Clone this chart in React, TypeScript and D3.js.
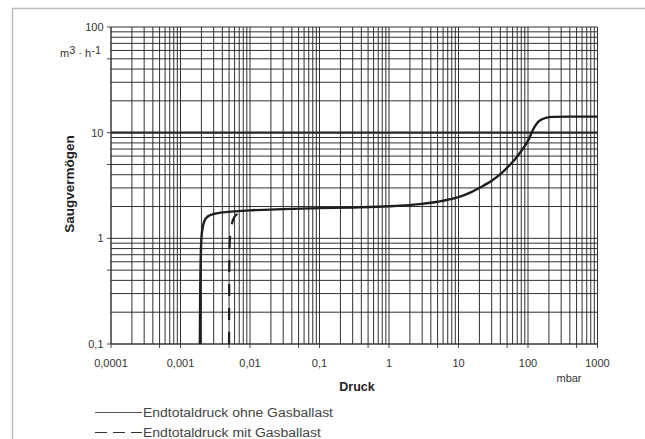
import React from "react";
import * as d3 from "d3";

const xTickValues = [0.0001, 0.001, 0.01, 0.1, 1, 10, 100, 1000];
const xTickLabels = ["0,0001", "0,001", "0,01", "0,1", "1", "10", "100", "1000"];
const yTickValues = [0.1, 1, 10, 100];
const yTickLabels = ["0,1", "1", "10", "100"];

// Endtotaldruck ohne Gasballast
const solidP = [0.0019, 0.00192, 0.00195, 0.002, 0.00208, 0.0022, 0.0025, 0.003, 0.004, 0.006, 0.01, 0.03, 0.1, 0.3, 1, 3, 5, 10, 15, 20, 30, 40, 50, 65, 80, 90, 100, 110, 120, 135, 150, 180, 230, 400, 1000];
const solidS = [0.1, 0.3, 0.6, 1.0, 1.25, 1.45, 1.62, 1.7, 1.76, 1.8, 1.84, 1.89, 1.93, 1.96, 2.01, 2.12, 2.22, 2.45, 2.72, 3.0, 3.5, 4.05, 4.65, 5.6, 6.7, 7.5, 8.4, 9.6, 10.9, 12.3, 13.1, 13.8, 14.1, 14.2, 14.2];

// Endtotaldruck mit Gasballast
const dashP = [0.005, 0.00502, 0.00508, 0.0052, 0.0055, 0.006, 0.007, 0.008, 0.0095];
const dashS = [0.1, 0.4, 0.8, 1.1, 1.38, 1.6, 1.74, 1.79, 1.83];

const legendLabels = ["Endtotaldruck ohne Gasballast", "Endtotaldruck mit Gasballast"];

const W = 645;
const H = 439;
const FONT = "'Liberation Sans', Arial, Helvetica, sans-serif";

export default function App() {
  const x = d3.scaleLog().domain([1e-4, 1e3]).range([111, 597.5]);
  const y = d3.scaleLog().domain([0.1, 100]).range([344, 27]);

  const gridX: number[] = [];
  for (let e = -4; e < 3; e++) for (let k = 1; k <= 9; k++) gridX.push(k * Math.pow(10, e));
  gridX.push(1000);
  const gridY: number[] = [];
  for (let e = -1; e < 2; e++) for (let k = 1; k <= 9; k++) gridY.push(k * Math.pow(10, e));
  gridY.push(100);

  const tickX: number[] = [];
  for (let e = -4; e < 3; e++) { tickX.push(Math.pow(10, e)); tickX.push(5 * Math.pow(10, e)); }
  tickX.push(1000);
  const tickY: number[] = [];
  for (let e = -1; e < 2; e++) { tickY.push(Math.pow(10, e)); tickY.push(5 * Math.pow(10, e)); }
  tickY.push(100);

  const line = d3
    .line<[number, number]>()
    .x((d) => x(d[0]))
    .y((d) => y(d[1]))
    .curve(d3.curveMonotoneX);

  const solidPath = line(solidP.map((p, i) => [p, solidS[i]] as [number, number])) || "";
  const dashPath = line(dashP.map((p, i) => [p, dashS[i]] as [number, number])) || "";

  const x0 = x(1e-4);
  const x1 = x(1e3);
  const y0 = y(0.1);
  const y1 = y(100);

  return (
    <svg width={W} height={H} style={{ position: "absolute", left: 0, top: 0, background: "#fff" }} fontFamily={FONT}>
      {/* page frame */}
      <line x1={12} y1={8.5} x2={W} y2={8.5} stroke="#bdbdbd" strokeWidth={1.5} />
      <line x1={12.5} y1={8} x2={12.5} y2={H} stroke="#bdbdbd" strokeWidth={1.5} />

      {/* grid */}
      <g stroke="#262626" strokeWidth={0.95}>
        {gridX.map((v, i) => (
          <line key={"gx" + i} x1={x(v)} x2={x(v)} y1={y1} y2={y0} />
        ))}
        {gridY.map((v, i) => (
          <line key={"gy" + i} x1={x0} x2={x1} y1={y(v)} y2={y(v)} strokeWidth={v === 10 ? 2.4 : 0.95} />
        ))}
      </g>

      {/* axes ticks */}
      <g stroke="#333" strokeWidth={0.9}>
        {tickY.map((v, i) => (
          <line key={"ty" + i} x1={x0 - 4} x2={x0} y1={y(v)} y2={y(v)} />
        ))}
        {tickX.map((v, i) => (
          <line key={"tx" + i} x1={x(v)} x2={x(v)} y1={y0} y2={y0 + 4} />
        ))}
        <line x1={x0} x2={x1} y1={y0} y2={y0} />
        <line x1={x0} x2={x0} y1={y0} y2={y1} />
      </g>

      {/* curves */}
      <path d={solidPath} fill="none" stroke="#1e1e1e" strokeWidth={2.4} strokeLinejoin="round" />
      <path d={dashPath} fill="none" stroke="#1e1e1e" strokeWidth={2.2} strokeDasharray="12,12" />

      {/* y tick labels */}
      <g fontSize={11} fill="#333" textAnchor="end">
        {yTickValues.map((v, i) => (
          <text key={"yl" + i} x={103.5} y={y(v) + 4}>
            {yTickLabels[i]}
          </text>
        ))}
      </g>
      <text x={101} y={57} fontSize={11} fill="#333" textAnchor="end">
        m<tspan dy={-3}>3</tspan>
        <tspan dy={3}> · h</tspan>
        <tspan dy={-3}>-1</tspan>
      </text>

      {/* x tick labels */}
      <g fontSize={11} fill="#333" textAnchor="middle">
        {xTickValues.map((v, i) => (
          <text key={"xl" + i} x={x(v)} y={366.5}>
            {xTickLabels[i]}
          </text>
        ))}
      </g>
      <text x={569} y={382} fontSize={11} fill="#333" textAnchor="middle">mbar</text>

      {/* axis titles */}
      <text x={357} y={391} fontSize={12.5} fontWeight="bold" fill="#222" textAnchor="middle">Druck</text>
      <text transform="translate(74,184) rotate(-90)" fontSize={13.5} fontWeight="bold" fill="#222" textAnchor="middle">
        Saugvermögen
      </text>

      {/* legend */}
      <line x1={95} x2={142} y1={412.5} y2={412.5} stroke="#555" strokeWidth={1} />
      <text x={143} y={417} fontSize={12.5} fill="#444" textLength={190} lengthAdjust="spacingAndGlyphs">{legendLabels[0]}</text>
      <line x1={95} x2={142} y1={432.5} y2={432.5} stroke="#333" strokeWidth={1} strokeDasharray="12,6" />
      <text x={143} y={437} fontSize={12.5} fill="#444" textLength={178} lengthAdjust="spacingAndGlyphs">{legendLabels[1]}</text>
    </svg>
  );
}
